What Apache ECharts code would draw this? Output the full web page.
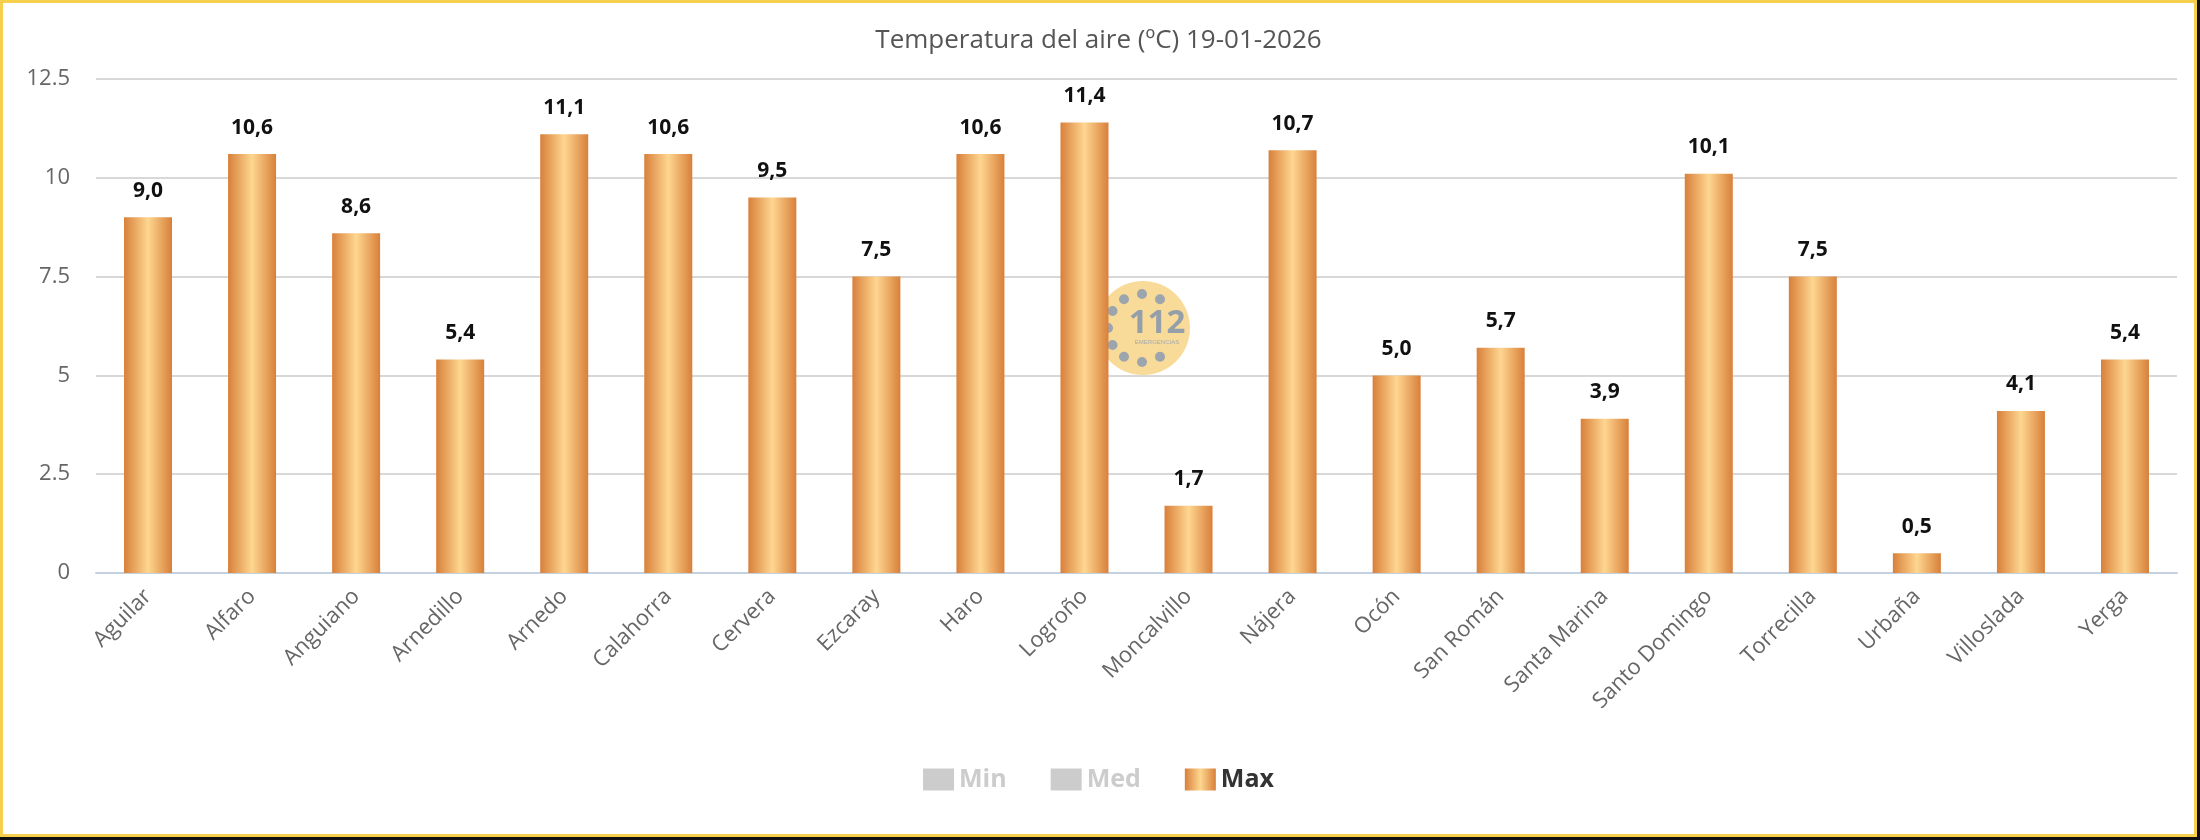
<!DOCTYPE html>
<html>
<head>
    <meta charset="utf-8">
    <title>Temperatura del aire</title>
    <script src="https://cdn.jsdelivr.net/npm/echarts@6/dist/echarts.min.js"></script>
    <style type="text/css">
        html, body {
            margin: 0;
            padding: 0;
            background: #fff;
        }
        #marco {
            width: 2200px;
            height: 840px;
            box-sizing: border-box;
            background: #111;
            padding: 0 3px 3px 0;
        }
        #main {
            width: 100%;
            height: 100%;
            box-sizing: border-box;
            border: 3px solid #f6cf4c;
            background: #fff;
        }
    </style>
</head>
<body>
    <div id="marco"><div id="main"></div></div>
    <script>
        // estaciones
        var estaciones = ['Aguilar', 'Alfaro', 'Anguiano', 'Arnedillo', 'Arnedo', 'Calahorra', 'Cervera',
            'Ezcaray', 'Haro', 'Logroño', 'Moncalvillo', 'Nájera', 'Ocón', 'San Román', 'Santa Marina',
            'Santo Domingo', 'Torrecilla', 'Urbaña', 'Villoslada', 'Yerga'];
        // temperaturas maximas
        var maximas = [9.0, 10.6, 8.6, 5.4, 11.1, 10.6, 9.5, 7.5, 10.6, 11.4, 1.7, 10.7, 5.0, 5.7, 3.9,
            10.1, 7.5, 0.5, 4.1, 5.4];
        // min y med no vienen en la imagen (desactivadas en la leyenda)
        var minimas = [];
        var medias = [];

        var fuente = '"Open Sans", "DejaVu Sans", sans-serif';

        var degradado = new echarts.graphic.LinearGradient(0, 0, 1, 0, [
            { offset: 0, color: '#d8803a' },
            { offset: 0.5, color: '#fed690' },
            { offset: 1, color: '#d8803a' }
        ]);

        var myChart = echarts.init(document.getElementById('main'));

        // logo 112 de fondo
        var puntos = [];
        [-90, -58, -122, -150, 180, 150, 122, 90, 58].forEach(function (a) {
            var r = a * Math.PI / 180;
            puntos.push({
                type: 'circle',
                shape: { cx: Math.cos(r) * 34, cy: Math.sin(r) * 34, r: 5 },
                style: { fill: '#9ca5ae' }
            });
        });
        puntos.push({
            type: 'text',
            x: 15, y: -4,
            style: { text: '112', fill: '#959fa9', font: 'bold 33px "Open Sans", sans-serif', align: 'center', verticalAlign: 'middle' }
        });
        puntos.push({
            type: 'text',
            x: 15, y: 14,
            style: { text: 'EMERGENCIAS', fill: '#a3a9af', font: '6px sans-serif', align: 'center', verticalAlign: 'middle' }
        });

        var option = {
            animation: false,
            title: {
                text: 'Temperatura del aire (ºC) 19-01-2026',
                left: 'center',
                top: 20,
                textStyle: { fontFamily: fuente, fontSize: 26, fontWeight: 'normal', color: '#555' }
            },
            graphic: [{
                type: 'group',
                x: 1139, y: 325,
                z: -10,
                children: [{
                    type: 'circle',
                    shape: { cx: 1, cy: 0, r: 47 },
                    style: { fill: '#f8db98' }
                }].concat(puntos)
            }],
            legend: {
                bottom: 37,
                left: 'center',
                icon: 'rect',
                itemWidth: 31,
                itemHeight: 22,
                itemGap: 44,
                inactiveColor: '#ccc',
                textStyle: { fontFamily: fuente, fontSize: 25, fontWeight: 'bold', color: '#333' },
                data: ['Min', 'Med', 'Max'],
                selected: { 'Min': false, 'Med': false, 'Max': true }
            },
            grid: {
                left: 93,
                right: 17,
                top: 76,
                bottom: 261
            },
            xAxis: {
                type: 'category',
                data: estaciones,
                axisLine: { lineStyle: { color: '#c3d1e0', width: 2 } },
                axisTick: { length: 19, lineStyle: { color: '#c3d1e0', width: 2 } },
                axisLabel: {
                    rotate: 45,
                    interval: 0,
                    margin: 20,
                    fontFamily: fuente,
                    fontSize: 22,
                    color: '#666'
                }
            },
            yAxis: {
                type: 'value',
                min: 0,
                max: 12.5,
                interval: 2.5,
                axisLine: { show: false },
                axisTick: { show: false },
                splitLine: { lineStyle: { color: '#d8d8d8', width: 2 } },
                axisLabel: {
                    margin: 26,
                    fontFamily: fuente,
                    fontSize: 22,
                    color: '#666'
                }
            },
            series: [{
                name: 'Min',
                type: 'bar',
                itemStyle: { color: '#ccc' },
                data: minimas
            }, {
                name: 'Med',
                type: 'bar',
                itemStyle: { color: '#ccc' },
                data: medias
            }, {
                name: 'Max',
                type: 'bar',
                barWidth: 48,
                itemStyle: { color: degradado },
                label: {
                    show: true,
                    position: 'top',
                    distance: 16,
                    fontFamily: fuente,
                    fontSize: 21,
                    fontWeight: 'bold',
                    color: '#111',
                    formatter: function (p) {
                        return p.value.toFixed(1).replace('.', ',');
                    }
                },
                data: maximas
            }]
        };

        myChart.setOption(option);
    </script>
</body>
</html>
